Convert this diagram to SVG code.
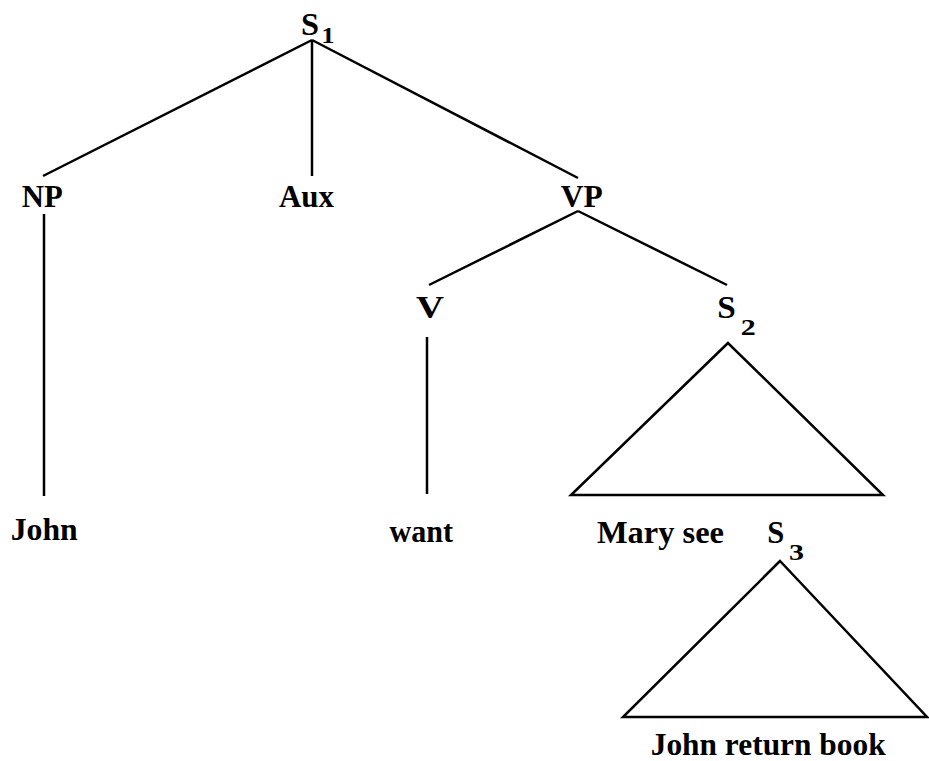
<svg xmlns="http://www.w3.org/2000/svg" width="929" height="761" viewBox="0 0 929 761">
  <style>
    .lbl { font-family: "Liberation Serif", "Times New Roman", serif; font-weight: bold; font-size: 30.5px; fill: #000; }
    .sub { font-family: "Liberation Serif", "Times New Roman", serif; font-weight: bold; font-size: 22.5px; fill: #000; }
    .edge { stroke: #000; stroke-width: 2.5; fill: none; stroke-linecap: butt; }
  </style>
  <rect width="929" height="761" fill="#fff"/>

  <g id="connectors">
    <!-- S1 branches -->
    <line class="edge" x1="312" y1="40" x2="43" y2="176"/>
    <line class="edge" x1="312" y1="40" x2="312" y2="176"/>
    <line class="edge" x1="312" y1="40" x2="578" y2="178"/>
    <!-- VP branches -->
    <line class="edge" x1="578" y1="211" x2="429" y2="285"/>
    <line class="edge" x1="578" y1="211" x2="727" y2="285"/>
    <!-- NP and V down to words -->
    <line class="edge" x1="44" y1="214" x2="44" y2="496"/>
    <line class="edge" x1="427" y1="337" x2="427" y2="494"/>
    <!-- S2 triangle -->
    <polygon class="edge" points="728,343 571,495 883,495"/>
    <!-- S3 triangle -->
    <polygon class="edge" points="780,561 623,717 927,717"/>
  </g>

  <g id="S1">
    <text class="lbl" x="301" y="34.5" textLength="18" lengthAdjust="spacingAndGlyphs">S</text>
    <text class="sub" x="321.5" y="43.3" textLength="13" lengthAdjust="spacingAndGlyphs">1</text>
  </g>
  <g id="NP"><text class="lbl" x="21.7" y="207" textLength="41" lengthAdjust="spacingAndGlyphs">NP</text></g>
  <g id="Aux"><text class="lbl" x="279" y="206.7" textLength="55" lengthAdjust="spacingAndGlyphs">Aux</text></g>
  <g id="VP"><text class="lbl" x="560.7" y="206.7" textLength="42" lengthAdjust="spacingAndGlyphs">VP</text></g>
  <g id="V"><text class="lbl" x="416" y="318" textLength="28" lengthAdjust="spacingAndGlyphs">V</text></g>
  <g id="S2">
    <text class="lbl" x="717.3" y="318" textLength="18.5" lengthAdjust="spacingAndGlyphs">S</text>
    <text class="sub" x="740.7" y="335" textLength="15" lengthAdjust="spacingAndGlyphs">2</text>
  </g>
  <g id="John"><text class="lbl" x="10.7" y="540" textLength="67" lengthAdjust="spacingAndGlyphs">John</text></g>
  <g id="want"><text class="lbl" x="389.5" y="541.7" textLength="63.5" lengthAdjust="spacingAndGlyphs">want</text></g>
  <g id="MarySee"><text class="lbl" x="597" y="543.3" textLength="127" lengthAdjust="spacingAndGlyphs">Mary see</text></g>
  <g id="S3">
    <text class="lbl" x="767.3" y="543.3" textLength="17" lengthAdjust="spacingAndGlyphs">S</text>
    <text class="sub" x="789" y="560" textLength="15" lengthAdjust="spacingAndGlyphs">3</text>
  </g>
  <g id="JohnReturnBook"><text class="lbl" x="650.7" y="755" textLength="235" lengthAdjust="spacingAndGlyphs">John return book</text></g>
</svg>
